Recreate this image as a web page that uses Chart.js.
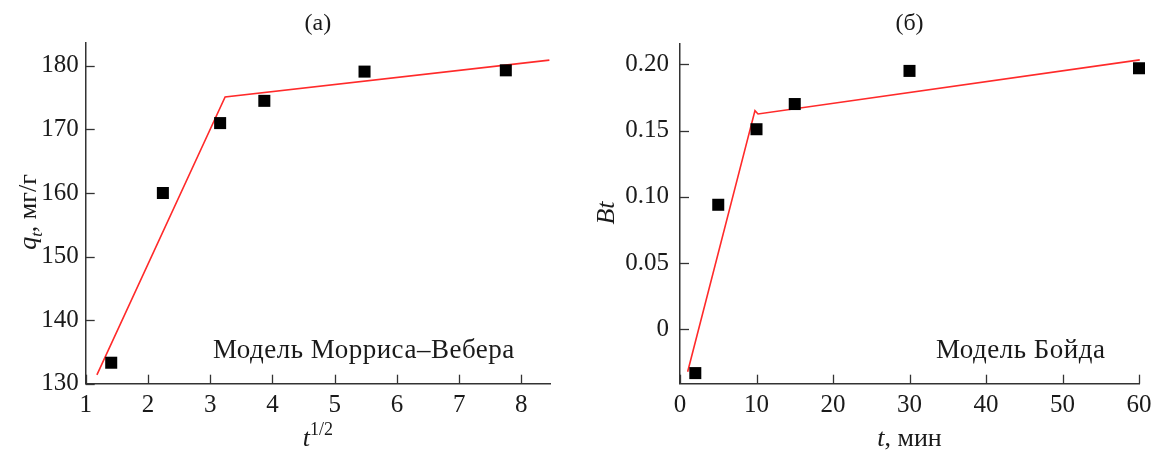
<!DOCTYPE html>
<html>
<head>
<meta charset="utf-8">
<script src="https://cdn.jsdelivr.net/npm/chart.js@4"></script>
<style>
  html, body { margin: 0; padding: 0; background: #fff; }
  #wrap { width: 1152px; height: 451px; display: flex; }
  .cell { width: 576px; height: 451px; position: relative; }
  canvas { display: block; }
</style>
</head>
<body>
<div id="wrap">
  <div class="cell"><canvas id="cA" width="576" height="451"></canvas></div>
  <div class="cell"><canvas id="cB" width="576" height="451"></canvas></div>
</div>
<script>
// ---------- Panel (a): Morris–Weber model ----------
const sqrtT = [1.41, 2.24, 3.16, 3.87, 5.48, 7.75];
const qt = [133.3, 160.0, 171.0, 174.5, 179.1, 179.3];
const fitAx = [1.18, 3.24, 8.45];
const fitAy = [131.4, 175.1, 180.9];
const xTicksA = [1, 2, 3, 4, 5, 6, 7, 8];
const yTicksA = [130, 140, 150, 160, 170, 180];

// ---------- Panel (б): Boyd model ----------
const tMin = [2, 5, 10, 15, 30, 60];
const bt = [-0.033, 0.094, 0.151, 0.170, 0.195, 0.197];
const fitBx = [1.0, 9.8, 10.2, 60.1];
const fitBy = [-0.032, 0.165, 0.1625, 0.2033];
const xTicksB = [0, 10, 20, 30, 40, 50, 60];
const yTicksB = [0, 0.05, 0.10, 0.15, 0.20];

const SERIF = '"Liberation Serif", "DejaVu Serif", serif';
const TXT = '#1a1a1a';
const AXC = '#333333';

function pts(xs, ys) { return xs.map((x, i) => ({ x: x, y: ys[i] })); }

function drawRich(ctx, segs, x, y, align) {
  let w = 0;
  segs.forEach(s => { ctx.font = s.font; w += ctx.measureText(s.t).width; });
  let cx = align === 'left' ? x : x - w / 2;
  ctx.textAlign = 'left';
  ctx.textBaseline = 'alphabetic';
  segs.forEach(s => {
    ctx.font = s.font;
    ctx.fillText(s.t, cx, y + (s.dy || 0));
    cx += ctx.measureText(s.t).width;
  });
}

const deco = {
  id: 'deco',
  afterDraw(chart, args, o) {
    const { ctx, chartArea: ca } = chart;
    const xs = chart.scales.x, ys = chart.scales.y;
    ctx.save();
    ctx.strokeStyle = AXC;
    ctx.lineWidth = 1.3;
    xs.ticks.forEach(t => {
      const px = Math.round(xs.getPixelForValue(t.value)) + 0.5;
      ctx.beginPath(); ctx.moveTo(px, ca.bottom); ctx.lineTo(px, ca.bottom - 9); ctx.stroke();
    });
    ys.ticks.forEach(t => {
      const py = Math.round(ys.getPixelForValue(t.value)) + 0.5;
      ctx.beginPath(); ctx.moveTo(ca.left, py); ctx.lineTo(ca.left + 9, py); ctx.stroke();
    });
    ctx.fillStyle = TXT;
    const cxMid = (ca.left + ca.right) / 2;
    drawRich(ctx, [{ t: o.title, font: '24px ' + SERIF }], cxMid, 30);
    ctx.save();
    try { ctx.letterSpacing = '0.5px'; } catch (e) {}
    drawRich(ctx, [{ t: o.note, font: '27px ' + SERIF }], o.noteX, 358, 'left');
    ctx.restore();
    drawRich(ctx, o.xTitle, cxMid, 446);
    ctx.save();
    ctx.translate(o.yTitleX, o.yTitleY);
    ctx.rotate(-Math.PI / 2);
    drawRich(ctx, o.yTitle, 0, 0);
    ctx.restore();
    ctx.restore();
  }
};

function makeChart(id, cfg) {
  const fixedTicks = arr => function (scale) { scale.ticks = arr.map(v => ({ value: v })); };
  return new Chart(document.getElementById(id), {
    data: {
      datasets: [
        {
          type: 'scatter',
          data: cfg.fit,
          showLine: true,
          borderColor: '#ff2a2a',
          borderWidth: 1.6,
          pointRadius: 0,
          fill: false,
          clip: false,
          order: 2
        },
        {
          type: 'scatter',
          data: cfg.points,
          pointStyle: 'rect',
          pointRadius: 8.5,
          pointHoverRadius: 8.5,
          backgroundColor: '#000',
          borderColor: '#000',
          borderWidth: 0,
          clip: false,
          order: 1
        }
      ]
    },
    options: {
      responsive: false,
      devicePixelRatio: 1,
      animation: false,
      events: [],
      layout: { padding: { left: 0, right: cfg.padRight, top: cfg.padTop, bottom: 0 } },
      plugins: {
        legend: { display: false },
        tooltip: { enabled: false },
        title: { display: false },
        deco: cfg.deco
      },
      scales: {
        x: {
          type: 'linear',
          min: cfg.xMin, max: cfg.xMax,
          afterBuildTicks: fixedTicks(cfg.xTicks),
          afterFit: s => { s.height = 451 - 383.7; s.paddingLeft = 0; s.paddingRight = 0; },
          grid: { display: true, drawOnChartArea: false, drawTicks: false },
          border: { display: true, color: AXC, width: 1.5 },
          ticks: { color: TXT, font: { family: SERIF, size: 25 }, padding: 7, maxRotation: 0, autoSkip: false }
        },
        y: {
          type: 'linear',
          min: cfg.yMin, max: cfg.yMax,
          afterBuildTicks: fixedTicks(cfg.yTicks),
          afterFit: s => { s.width = cfg.yWidth; s.paddingTop = 0; s.paddingBottom = 0; },
          grid: { display: true, drawOnChartArea: false, drawTicks: false },
          border: { display: true, color: AXC, width: 1.5 },
          ticks: { color: TXT, font: { family: SERIF, size: 25 }, padding: cfg.yPad, autoSkip: false,
                   callback: cfg.yFmt }
        }
      }
    },
    plugins: [deco]
  });
}

const IT = 'italic 26px ' + SERIF;
const RG = '26px ' + SERIF;

makeChart('cA', {
  points: pts(sqrtT, qt),
  fit: pts(fitAx, fitAy),
  xMin: 1, xMax: 8.46, yMin: 130, yMax: 183.6,
  xTicks: xTicksA, yTicks: yTicksA,
  yWidth: 85.7, padRight: 26, padTop: 43, yPad: 7,
  yFmt: v => String(v),
  deco: {
    title: '(a)',
    note: 'Модель Морриса–Вебера',
    noteX: 213,
    xTitle: [{ t: 't', font: IT }, { t: '1/2', font: '18px ' + SERIF, dy: -11 }],
    yTitle: [{ t: 'q', font: IT }, { t: 't', font: 'italic 17px ' + SERIF, dy: 6 }, { t: ', мг/г', font: RG }],
    yTitleX: 36, yTitleY: 212
  }
});

makeChart('cB', {
  points: pts(tMin, bt),
  fit: pts(fitBx, fitBy),
  xMin: 0, xMax: 60, yMin: -0.041, yMax: 0.2153,
  xTicks: xTicksB, yTicks: yTicksB,
  yWidth: 104, padRight: 13, padTop: 44, yPad: 11,
  yFmt: v => (v === 0 ? '0' : v.toFixed(2)),
  deco: {
    title: '(б)',
    note: 'Модель Бойда',
    noteX: 360,
    xTitle: [{ t: 't', font: IT }, { t: ', мин', font: RG }],
    yTitle: [{ t: 'Bt', font: IT }],
    yTitleX: 38, yTitleY: 213
  }
});
</script>
</body>
</html>
